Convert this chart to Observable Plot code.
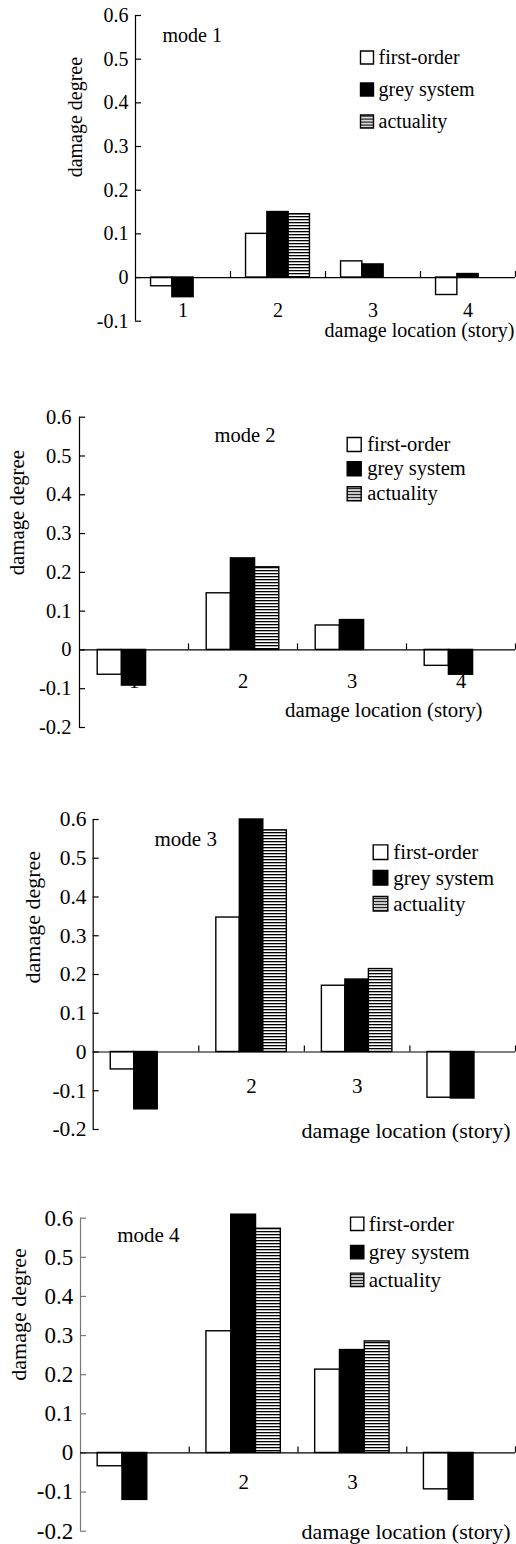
<!DOCTYPE html>
<html><head><meta charset="utf-8">
<script src="https://cdn.jsdelivr.net/npm/d3@7"></script>
<script src="https://cdn.jsdelivr.net/npm/@observablehq/plot@0.6"></script>
<style>
body{margin:0;background:#fff;width:516px;}
#charts svg{display:block;}
</style></head><body><div id="charts"></div>
<script>
// ---- data ----
const stories = ["1", "2", "3", "4"];
const seriesNames = ["first-order", "grey system", "actuality"];
const modeTitles = ["mode 1", "mode 2", "mode 3", "mode 4"];
const yTicksMode1 = [-0.1, 0, 0.1, 0.2, 0.3, 0.4, 0.5, 0.6];
const yTicksOther = [-0.2, -0.1, 0, 0.1, 0.2, 0.3, 0.4, 0.5, 0.6];
const xLabel = "damage location (story)";
const yLabel = "damage degree";

const mode1First = [-0.02, 0.10, 0.037, -0.04];
const mode1Grey = [-0.045, 0.15, 0.03, 0.008];
const mode1Actual = [null, 0.145, null, null];

const mode2First = [-0.064, 0.146, 0.063, -0.041];
const mode2Grey = [-0.092, 0.236, 0.077, -0.064];
const mode2Actual = [null, 0.213, null, null];

const mode3First = [-0.045, 0.347, 0.171, -0.118];
const mode3Grey = [-0.148, 0.60, 0.187, -0.12];
const mode3Actual = [null, 0.572, 0.214, null];

const mode4First = [-0.034, 0.311, 0.213, -0.093];
const mode4Grey = [-0.12, 0.609, 0.263, -0.12];
const mode4Actual = [null, 0.573, 0.285, null];

// ---- layout (positions / styles) ----
const layouts = [
  {h: 360, mt: 15, mb: 39.3, ml: 135, mr: 1, barW: 21.3, xTickDy: 33, yTickGap: 7, fs: 20, tickFs: 20, labFs: 20,
   xlDx: -1, xlDy: 9, ylDx: -60, ylDy: 9, titleDx: 27, titleDy: 20,
   legSqX: 231.5, legSq: 13, legTextX: 243, legY: [42, 74, 106], axisColor: "black"},
  {h: 412, mt: 56.7, mb: 45, ml: 79, mr: 1, barW: 24.2, xTickDy: 32, yTickGap: 8, fs: 20.5, tickFs: 20.5, labFs: 20.8,
   xlDx: -33, xlDy: -17, ylDx: -62, ylDy: 3, titleDx: 135, titleDy: 18,
   legSqX: 274.7, legSq: 14, legTextX: 287.7, legY: [27.3, 51.6, 76.6], axisColor: "black"},
  {h: 393, mt: 47, mb: 36, ml: 92.7, mr: 1, barW: 23.5, xTickDy: 34.3, yTickGap: 6.7, fs: 21, tickFs: 21.5, labFs: 22,
   xlDx: -5, xlDy: 1, ylDx: -60.7, ylDy: 9, titleDx: 61.3, titleDy: 20,
   legSqX: 287.3, legSq: 14.6, legTextX: 300, legY: [32.7, 58.3, 84.3], axisColor: "black"},
  {h: 379, mt: 52.7, mb: 13.3, ml: 80, mr: 1, barW: 24.8, xTickDy: 29, yTickGap: 7.3, fs: 21, tickFs: 23, labFs: 22,
   xlDx: -5, xlDy: 1, ylDx: -62, ylDy: 6, titleDx: 36.7, titleDy: 17.3,
   legSqX: 276.7, legSq: 13.3, legTextX: 288.3, legY: [5.6, 34, 61.6], axisColor: "#777"}
];

const panels = [
  {series: [mode1First, mode1Grey, mode1Actual], ticks: yTicksMode1},
  {series: [mode2First, mode2Grey, mode2Actual], ticks: yTicksOther},
  {series: [mode3First, mode3Grey, mode3Actual], ticks: yTicksOther},
  {series: [mode4First, mode4Grey, mode4Actual], ticks: yTicksOther}
];

const W = 516;
const fmt = d => d === 0 ? "0" : d.toFixed(1);
const font = "'Liberation Serif', 'Times New Roman', serif";

function drawPanel(p, idx) {
  const L = layouts[idx];
  const frameW = W - L.ml - L.mr;
  const bw = frameW / stories.length;
  const gap = (bw - 3 * L.barW) / 2;
  const hatchId = `hatch${idx}`;
  const fills = ["white", "black", `url(#${hatchId})`];
  const rows = arr => stories.map((s, i) => ({story: s, value: arr[i]})).filter(d => d.value != null);

  const bars = p.series.map((arr, k) => Plot.barY(rows(arr), {
    x: "story", y: "value", fill: fills[k], stroke: "black", strokeWidth: 1.4,
    insetLeft: gap + k * L.barW, insetRight: bw - gap - (k + 1) * L.barW
  }));

  const legend = seriesNames.flatMap((name, k) => [
    Plot.dot([name], {frameAnchor: "top-left", dx: L.legSqX, dy: L.legY[k], symbol: "square",
      r: L.legSq / Math.sqrt(Math.PI), fill: fills[k], stroke: "black", strokeWidth: 1.4}),
    Plot.text([name], {frameAnchor: "top-left", lineAnchor: "middle", dx: L.legTextX, dy: L.legY[k], text: d => d,
      textAnchor: "start", fontSize: L.fs})
  ]);

  const svg = Plot.plot({
    width: W, height: L.h,
    marginTop: L.mt, marginBottom: L.mb, marginLeft: L.ml, marginRight: L.mr,
    x: {type: "band", domain: stories, padding: 0, round: false, axis: null},
    y: {domain: [p.ticks[0], 0.6], axis: null},
    style: {fontFamily: font, fontSize: L.fs + "px", color: "black", background: "white", overflow: "visible"},
    marks: [
      // category labels (drawn beneath bars)
      Plot.text(stories, {x: d => d, y: 0, dy: L.xTickDy, text: d => d, fontSize: L.fs}),
      ...bars,
      // axes
      Plot.ruleX([stories[0]], {x: d => d, dx: -bw / 2, stroke: L.axisColor, strokeWidth: 1.2}),
      Plot.tickY(p.ticks, {y: d => d, insetRight: frameW - 6, stroke: L.axisColor, strokeWidth: 1.2}),
      Plot.ruleY([0], {stroke: "black", strokeWidth: 1.2}),
      Plot.ruleX(stories, {x: d => d, y1: 0, y2: 0, insetBottom: 6, dx: bw / 2, stroke: "black", strokeWidth: 1.2}),
      Plot.text(p.ticks, {y: d => d, frameAnchor: "left", lineAnchor: "middle", dx: -L.yTickGap, textAnchor: "end", text: fmt, fontSize: L.tickFs}),
      Plot.text([yLabel], {frameAnchor: "left", lineAnchor: "middle", rotate: -90, dx: L.ylDx, dy: L.ylDy, text: d => d, fontSize: L.labFs}),
      Plot.text([xLabel], {frameAnchor: "bottom-right", lineAnchor: "middle", textAnchor: "end", dx: L.xlDx, dy: L.xlDy, text: d => d, fontSize: L.labFs}),
      Plot.text([modeTitles[idx]], {frameAnchor: "top-left", lineAnchor: "middle", textAnchor: "start", dx: L.titleDx, dy: L.titleDy, text: d => d, fontSize: L.fs}),
      ...legend
    ]
  });

  const ns = "http://www.w3.org/2000/svg";
  const defs = document.createElementNS(ns, "defs");
  defs.innerHTML = `<pattern id="${hatchId}" patternUnits="userSpaceOnUse" width="4" height="3">
    <rect width="4" height="3" fill="white"/><rect y="0" width="4" height="1.3" fill="black"/></pattern>`;
  svg.insertBefore(defs, svg.firstChild);
  return svg;
}

const container = document.getElementById("charts");
panels.forEach((p, i) => container.appendChild(drawPanel(p, i)));
</script>
</body></html>
